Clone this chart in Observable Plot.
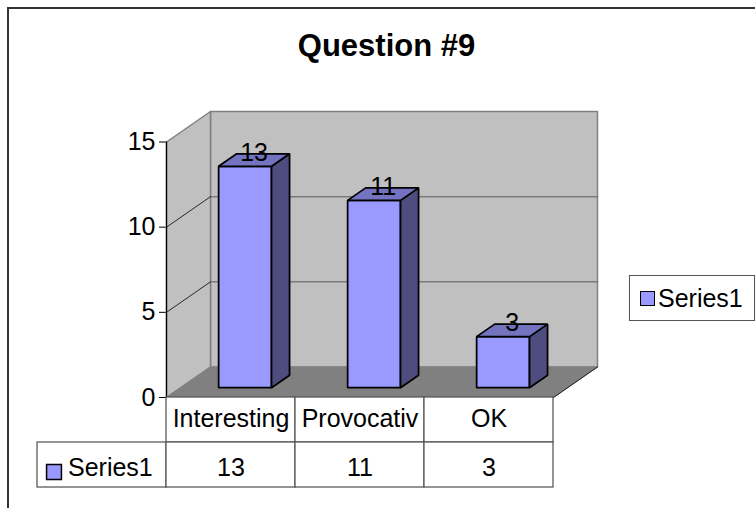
<!DOCTYPE html>
<html>
<head>
<meta charset="utf-8">
<script src="https://cdn.jsdelivr.net/npm/d3@7"></script>
<script src="https://cdn.jsdelivr.net/npm/@observablehq/plot@0.6"></script>
<style>
  html, body { margin: 0; padding: 0; background: #fff; }
  #chart { position: relative; width: 755px; height: 508px; overflow: hidden;
           font-family: "Liberation Sans", Arial, sans-serif; color: #000; }
  #chart > * { position: absolute; left: 0; top: 0; }
  #border { left: 7px; top: 7px; width: 800px; height: 600px;
            border-top: 2px solid #333; border-left: 2px solid #333; }
  #title { top: 30px; left: 0; width: 773px; text-align: center;
           font-size: 31px; line-height: 31px; font-weight: bold; }
  #legend { left: 629px; top: 275px; width: 126px; height: 46px; box-sizing: border-box;
            border: 1px solid #555; background: #fff; }
  #legend .key { position: absolute; left: 10px; top: 15px; width: 15px; height: 15px;
                 box-sizing: border-box; background: #9999FF; border: 1.5px solid #000; }
  #legend .name { position: absolute; left: 28px; top: 10px; font-size: 25px; line-height: 25px; white-space: nowrap; }
</style>
</head>
<body>
<div id="chart">
  <div id="border"></div>
  <div id="title"></div>
  <div id="legend"><div class="key"></div><div class="name"></div></div>
</div>
<script>
// Survey answers for question 9
const chartTitle = "Question #9";
const seriesName = "Series1";
const categories = ["Interesting", "Provocativ", "OK"];
const series1 = [13, 11, 3];
const yTicks = [0, 5, 10, 15];
const yMax = 15;

// Layout of the front plane and the oblique depth of the 3-D box
const W = 755, H = 508;
const front = {left: 166, right: 553, top: 141.5, bottom: 397};
const depthPx = [44, 30.5];           // screen shift for the full depth of the box
const kx = (front.right - front.left) / categories.length; // px per category slot
const ky = (front.bottom - front.top) / yMax;              // px per unit of value

// Oblique projection into data units: (slot, value, depth 0..1)
const P = (u, v, d) => ({x: u + d * depthPx[0] / kx, y: v + d * depthPx[1] / ky});
const shape = (id, pts) => pts.map(p => ({...p, id}));
const n = categories.length;

// Walls, floor and gridlines
const backWall = shape("back", [P(0, 0, 1), P(n, 0, 1), P(n, yMax, 1), P(0, yMax, 1)]);
const sideWall = shape("side", [P(0, 0, 0), P(0, yMax, 0), P(0, yMax, 1), P(0, 0, 1)]);
const floor = shape("floor", [P(0, 0, 0), P(n, 0, 0), P(n, 0, 1), P(0, 0, 1)]);
const floorEdge = shape("edge", [P(0, 0, 0), P(n, 0, 0), P(n, 0, 1)]);
const inner = yTicks.filter(t => t > 0 && t < yMax);
const backGrid = inner.flatMap(t => shape("g" + t, [P(0, t, 1), P(n, t, 1)]));
const sideGrid = inner.flatMap(t => shape("s" + t, [P(0, t, 0), P(0, t, 1)]));

// Bar blocks: front, top and right faces
const half = 0.205, d0 = 0.32, d1 = 0.73;
const fronts = [], tops = [], sides = [], labels = [];
series1.forEach((v, i) => {
  const a = i + 0.5 - half, b = i + 0.5 + half;
  fronts.push(...shape("f" + i, [P(a, 0, d0), P(b, 0, d0), P(b, v, d0), P(a, v, d0)]));
  tops.push(...shape("t" + i, [P(a, v, d0), P(b, v, d0), P(b, v, d1), P(a, v, d1)]));
  sides.push(...shape("r" + i, [P(b, 0, d0), P(b, 0, d1), P(b, v, d1), P(b, v, d0)]));
  labels.push({...P(i + 0.5, v, (d0 + d1) / 2), text: String(v)});
});

const poly = (data, opts) => Plot.line(data, {x: "x", y: "y", z: "id", curve: "linear-closed", ...opts});
const barStroke = {stroke: "#000", strokeWidth: 1.75, strokeLinejoin: "miter"};
const svgStyle = {background: "transparent", overflow: "visible", fontSize: "25px",
                  fontFamily: "'Liberation Sans', Arial, sans-serif", color: "#000"};

const chart = Plot.plot({
  width: W, height: H,
  marginLeft: front.left, marginRight: W - front.right,
  marginTop: front.top, marginBottom: H - front.bottom,
  x: {domain: [0, n], axis: null},
  y: {domain: [0, yMax], ticks: yTicks, tickSize: 7, tickPadding: 4, label: null},
  style: svgStyle,
  marks: [
    poly(backWall, {fill: "#C0C0C0", stroke: "#808080", strokeWidth: 1.5}),
    poly(sideWall, {fill: "#C0C0C0", stroke: "#808080", strokeWidth: 1.5}),
    Plot.line(backGrid, {x: "x", y: "y", z: "id", stroke: "#7a7a7a", strokeWidth: 1.5}),
    Plot.line(sideGrid, {x: "x", y: "y", z: "id", stroke: "#000", strokeWidth: 0.8}),
    poly(floor, {fill: "#808080", stroke: "#808080", strokeWidth: 1}),
    Plot.line(floorEdge, {x: "x", y: "y", z: "id", stroke: "#222", strokeWidth: 1}),
    Plot.ruleX([0], {y1: 0, y2: yMax, stroke: "#000", strokeWidth: 1.25}),
    poly(fronts, {fill: "#9999FF", ...barStroke}),
    poly(sides, {fill: "#4D4D80", ...barStroke}),
    poly(tops, {fill: "#7373BF", ...barStroke}),
    Plot.text(labels, {x: "x", y: "y", text: "text", lineAnchor: "bottom", dy: 1, fill: "#000"})
  ]
});

// Data table under the plot, sharing the category columns
const cols = ["key", ...categories];
const rows = ["head", "values"];
const cells = [
  ...categories.map(c => ({col: c, row: "head"})),
  ...cols.map(c => ({col: c, row: "values"}))
];
const table = Plot.plot({
  width: W, height: H,
  marginLeft: front.left - kx, marginRight: W - front.right,
  marginTop: front.bottom, marginBottom: H - 487.5,
  x: {type: "band", domain: cols, padding: 0, axis: null},
  y: {type: "band", domain: rows, padding: 0, axis: null},
  style: svgStyle,
  marks: [
    Plot.cell(cells, {x: "col", y: "row", fill: "white", stroke: "#555", strokeWidth: 1.25, inset: 0}),
    Plot.text(categories, {x: d => d, y: () => "head", text: d => d, dy: -1, fill: "#000"}),
    Plot.text(categories, {x: d => d, y: () => "values", text: (d, i) => String(series1[i]), dy: 3, fill: "#000"}),
    Plot.dot(["key"], {x: d => d, y: () => "values", symbol: "square", r: 8.4,
                       fill: "#9999FF", stroke: "#000", strokeWidth: 1.5, dx: -48, dy: 7}),
    Plot.text([seriesName], {x: () => "key", y: () => "values", text: d => d,
                             textAnchor: "start", dx: -34, dy: 3, fill: "#000"})
  ]
});

const root = document.getElementById("chart");
document.getElementById("title").textContent = chartTitle;
document.querySelector("#legend .name").textContent = seriesName;
chart.style.position = "absolute";
table.style.position = "absolute";
root.insertBefore(chart, document.getElementById("legend"));
root.insertBefore(table, document.getElementById("legend"));
</script>
</body>
</html>
